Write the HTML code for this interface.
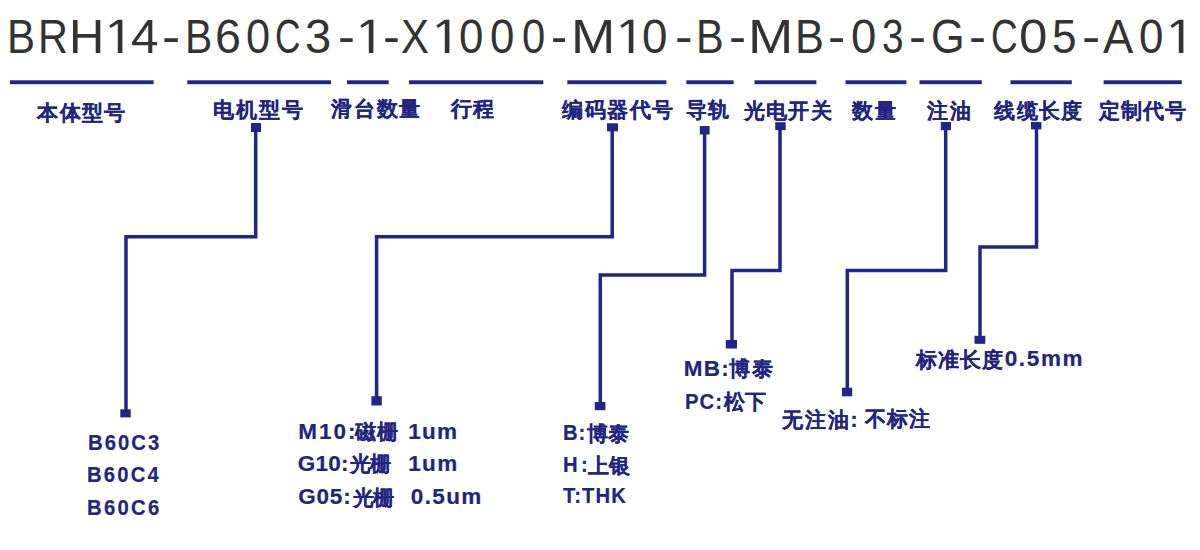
<!DOCTYPE html>
<html><head><meta charset="utf-8"><style>
html,body{margin:0;padding:0;background:#fff;}
body{width:1200px;height:550px;position:relative;overflow:hidden;font-family:"Liberation Sans",sans-serif;}
.t{position:absolute;line-height:1;white-space:pre;transform-origin:0 0;}
.ti{font-weight:400;color:#333333;font-size:48.29px;}
.l{font-weight:700;color:#23247f;font-size:22.50px;-webkit-text-stroke:0.20px #23247f;}
.c{font-weight:700;color:#23247f;font-size:20.50px;-webkit-text-stroke:0.12px #23247f;}
svg{position:absolute;left:0;top:0;}
</style></head><body>

<span class="t ti" style="left:6.92px;top:12.18px;transform:scaleX(0.870)">B</span>
<span class="t ti" style="left:38.36px;top:12.18px;transform:scaleX(0.859)">R</span>
<span class="t ti" style="left:68.66px;top:12.18px;transform:scaleX(1.011)">H</span>
<span class="t ti" style="left:130.85px;top:12.18px;transform:scaleX(1.026)">4</span>
<span class="t ti" style="left:162.08px;top:12.18px;transform:scaleX(1.137)">-</span>
<span class="t ti" style="left:184.91px;top:12.18px;transform:scaleX(0.847)">B</span>
<span class="t ti" style="left:215.08px;top:12.18px;transform:scaleX(0.966)">6</span>
<span class="t ti" style="left:245.81px;top:12.18px;transform:scaleX(0.899)">0</span>
<span class="t ti" style="left:274.87px;top:12.18px;transform:scaleX(0.731)">C</span>
<span class="t ti" style="left:304.87px;top:12.18px;transform:scaleX(0.975)">3</span>
<span class="t ti" style="left:337.76px;top:12.18px;transform:scaleX(1.053)">-</span>
<span class="t ti" style="left:383.26px;top:12.18px;transform:scaleX(1.053)">-</span>
<span class="t ti" style="left:401.02px;top:12.18px;transform:scaleX(0.867)">X</span>
<span class="t ti" style="left:459.30px;top:12.18px;transform:scaleX(0.908)">0</span>
<span class="t ti" style="left:490.30px;top:12.18px;transform:scaleX(0.908)">0</span>
<span class="t ti" style="left:522.38px;top:12.18px;transform:scaleX(0.865)">0</span>
<span class="t ti" style="left:551.47px;top:12.18px;transform:scaleX(1.002)">-</span>
<span class="t ti" style="left:571.10px;top:12.18px;transform:scaleX(1.101)">M</span>
<span class="t ti" style="left:641.82px;top:12.18px;transform:scaleX(0.947)">0</span>
<span class="t ti" style="left:674.67px;top:12.18px;transform:scaleX(1.095)">-</span>
<span class="t ti" style="left:695.57px;top:12.18px;transform:scaleX(0.859)">B</span>
<span class="t ti" style="left:728.75px;top:12.18px;transform:scaleX(1.061)">-</span>
<span class="t ti" style="left:748.20px;top:12.18px;transform:scaleX(1.126)">M</span>
<span class="t ti" style="left:795.41px;top:12.18px;transform:scaleX(0.898)">B</span>
<span class="t ti" style="left:827.73px;top:12.18px;transform:scaleX(1.069)">-</span>
<span class="t ti" style="left:850.93px;top:12.18px;transform:scaleX(0.943)">0</span>
<span class="t ti" style="left:882.09px;top:12.18px;transform:scaleX(0.804)">3</span>
<span class="t ti" style="left:908.75px;top:12.18px;transform:scaleX(1.061)">-</span>
<span class="t ti" style="left:930.57px;top:12.18px;transform:scaleX(0.895)">G</span>
<span class="t ti" style="left:968.75px;top:12.18px;transform:scaleX(1.061)">-</span>
<span class="t ti" style="left:990.79px;top:12.18px;transform:scaleX(0.764)">C</span>
<span class="t ti" style="left:1019.01px;top:12.18px;transform:scaleX(1.059)">0</span>
<span class="t ti" style="left:1051.77px;top:12.18px;transform:scaleX(0.914)">5</span>
<span class="t ti" style="left:1082.08px;top:12.18px;transform:scaleX(1.137)">-</span>
<span class="t ti" style="left:1103.48px;top:12.18px;transform:scaleX(0.938)">A</span>
<span class="t ti" style="left:1139.30px;top:12.18px;transform:scaleX(0.908)">0</span>
<span class="t c" style="left:37.23px;top:102.50px;letter-spacing:1.33px">本体型号</span>
<span class="t c" style="left:213.48px;top:99.87px;letter-spacing:1.83px">电机型号</span>
<span class="t c" style="left:330.88px;top:99.34px;letter-spacing:1.82px">滑台数量</span>
<span class="t c" style="left:451.33px;top:99.29px;letter-spacing:0.70px">行程</span>
<span class="t c" style="left:562.33px;top:99.84px;letter-spacing:1.50px">编码器代号</span>
<span class="t c" style="left:685.57px;top:99.92px;letter-spacing:1.85px">导轨</span>
<span class="t c" style="left:743.86px;top:100.57px;letter-spacing:1.27px">光电开关</span>
<span class="t c" style="left:852.19px;top:101.24px;letter-spacing:1.68px">数量</span>
<span class="t c" style="left:927.22px;top:100.90px;letter-spacing:2.12px">注油</span>
<span class="t c" style="left:994.28px;top:100.52px;letter-spacing:1.26px">线缆长度</span>
<span class="t c" style="left:1098.86px;top:101.21px;letter-spacing:1.15px">定制代号</span>
<span class="t l" style="left:88.29px;top:432.22px;letter-spacing:2.28px;transform:scaleX(0.900)">B60C3</span>
<span class="t l" style="left:86.83px;top:463.70px;letter-spacing:2.41px;transform:scaleX(0.900)">B60C4</span>
<span class="t l" style="left:86.83px;top:496.72px;letter-spacing:2.56px;transform:scaleX(0.900)">B60C6</span>
<span class="t l" style="left:298.20px;top:420.96px;letter-spacing:1.98px">M10:</span>
<span class="t c" style="left:355.41px;top:421.70px;letter-spacing:0.77px">磁栅</span>
<span class="t l" style="left:408.25px;top:420.96px;letter-spacing:1.22px">1um</span>
<span class="t l" style="left:297.80px;top:452.98px;letter-spacing:0.22px">G10:</span>
<span class="t c" style="left:350.27px;top:453.81px;letter-spacing:-1.09px">光栅</span>
<span class="t l" style="left:408.25px;top:452.98px;letter-spacing:1.36px">1um</span>
<span class="t l" style="left:298.36px;top:485.96px;letter-spacing:0.75px">G05:</span>
<span class="t c" style="left:352.53px;top:488.07px;letter-spacing:-0.37px">光栅</span>
<span class="t l" style="left:410.79px;top:485.96px;letter-spacing:1.36px">0.5um</span>
<span class="t l" style="left:563.33px;top:421.96px;letter-spacing:0.91px;transform:scaleX(0.900)">B:</span>
<span class="t c" style="left:586.67px;top:424.26px;letter-spacing:-0.04px">博泰</span>
<span class="t l" style="left:562.59px;top:453.96px;letter-spacing:3.86px;transform:scaleX(0.900)">H:</span>
<span class="t c" style="left:587.95px;top:456.15px;letter-spacing:-0.20px">上银</span>
<span class="t l" style="left:563.05px;top:484.96px;letter-spacing:1.25px;transform:scaleX(0.900)">T:THK</span>
<span class="t l" style="left:683.66px;top:357.96px;letter-spacing:1.35px">MB:</span>
<span class="t c" style="left:729.43px;top:359.48px;letter-spacing:1.48px">博泰</span>
<span class="t l" style="left:685.29px;top:390.96px;letter-spacing:1.17px;transform:scaleX(0.900)">PC:</span>
<span class="t c" style="left:724.31px;top:392.48px;letter-spacing:-0.07px">松下</span>
<span class="t c" style="left:782.17px;top:410.03px;letter-spacing:1.69px">无注油</span>
<span class="t l" style="left:850.37px;top:408.96px;letter-spacing:0.00px">:</span>
<span class="t c" style="left:864.87px;top:409.47px;letter-spacing:0.90px">不标注</span>
<span class="t c" style="left:915.68px;top:350.48px;letter-spacing:1.26px">标准长度</span>
<span class="t l" style="left:1004.69px;top:348.46px;letter-spacing:1.65px">0.5mm</span>
<svg width="1200" height="550" viewBox="0 0 1200 550">
<polygon points="117.70,19.80 122.40,19.80 122.40,53.00 117.80,53.00 117.80,23.60 110.90,28.00 109.30,25.40" fill="#333333"/>
<polygon points="368.70,19.80 373.40,19.80 373.40,53.00 368.80,53.00 368.80,23.60 361.90,28.00 360.30,25.40" fill="#333333"/>
<polygon points="444.70,19.80 449.40,19.80 449.40,53.00 444.80,53.00 444.80,23.60 437.90,28.00 436.30,25.40" fill="#333333"/>
<polygon points="628.70,19.80 633.40,19.80 633.40,53.00 628.80,53.00 628.80,23.60 621.90,28.00 620.30,25.40" fill="#333333"/>
<polygon points="1178.70,19.80 1183.40,19.80 1183.40,53.00 1178.80,53.00 1178.80,23.60 1171.90,28.00 1170.30,25.40" fill="#333333"/>
<rect x="10.0" y="80.3" width="143.6" height="3.9" fill="#23248a"/>
<rect x="187.3" y="80.3" width="143.7" height="3.9" fill="#23248a"/>
<rect x="347.0" y="80.3" width="41.7" height="3.9" fill="#23248a"/>
<rect x="409.0" y="80.3" width="134.3" height="3.9" fill="#23248a"/>
<rect x="567.3" y="80.3" width="99.1" height="3.9" fill="#23248a"/>
<rect x="686.4" y="80.3" width="47.2" height="3.9" fill="#23248a"/>
<rect x="754.5" y="80.3" width="61.9" height="3.9" fill="#23248a"/>
<rect x="845.5" y="80.3" width="60.9" height="3.9" fill="#23248a"/>
<rect x="919.5" y="80.3" width="62.3" height="3.9" fill="#23248a"/>
<rect x="1010.5" y="80.3" width="61.3" height="3.9" fill="#23248a"/>
<rect x="1103.6" y="80.3" width="78.2" height="3.9" fill="#23248a"/>
<polyline points="255.7,132.0 255.7,236.8 126.0,236.8 126.0,409.3" fill="none" stroke="#23248a" stroke-width="3.5" stroke-linejoin="miter" stroke-linecap="square"/>
<rect x="251.0" y="123.0" width="10.0" height="9.0" fill="#23248a"/>
<rect x="120.3" y="409.3" width="10.4" height="8.1" fill="#23248a"/>
<polyline points="612.2,131.3 612.2,236.8 376.6,236.8 376.6,396.2" fill="none" stroke="#23248a" stroke-width="3.5" stroke-linejoin="miter" stroke-linecap="square"/>
<rect x="607.0" y="123.3" width="11.0" height="8.0" fill="#23248a"/>
<rect x="371.4" y="396.2" width="10.4" height="9.3" fill="#23248a"/>
<polyline points="704.6,134.5 704.6,274.9 600.3,274.9 600.3,402.0" fill="none" stroke="#23248a" stroke-width="3.5" stroke-linejoin="miter" stroke-linecap="square"/>
<rect x="699.8" y="126.0" width="9.8" height="8.5" fill="#23248a"/>
<rect x="594.8" y="402.0" width="10.6" height="8.2" fill="#23248a"/>
<polyline points="780.0,130.2 780.0,270.6 732.0,270.6 732.0,340.0" fill="none" stroke="#23248a" stroke-width="3.5" stroke-linejoin="miter" stroke-linecap="square"/>
<rect x="775.2" y="122.2" width="10.5" height="7.9" fill="#23248a"/>
<rect x="725.8" y="340.0" width="11.2" height="8.5" fill="#23248a"/>
<polyline points="945.7,130.2 945.7,270.5 847.3,270.5 847.3,387.7" fill="none" stroke="#23248a" stroke-width="3.5" stroke-linejoin="miter" stroke-linecap="square"/>
<rect x="940.8" y="122.0" width="10.2" height="8.2" fill="#23248a"/>
<rect x="842.0" y="387.7" width="10.2" height="8.6" fill="#23248a"/>
<polyline points="1036.5,129.4 1036.5,247.0 980.0,247.0 980.0,335.8" fill="none" stroke="#23248a" stroke-width="3.5" stroke-linejoin="miter" stroke-linecap="square"/>
<rect x="1031.0" y="122.0" width="10.4" height="7.4" fill="#23248a"/>
<rect x="974.5" y="335.8" width="10.8" height="8.0" fill="#23248a"/>
</svg>
</body></html>
